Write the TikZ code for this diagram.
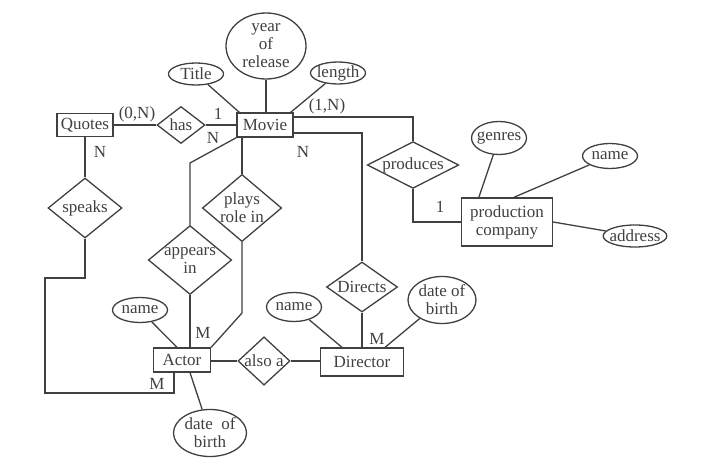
\documentclass[tikz,border=0pt]{standalone}
\usepackage{fontspec}
\setmainfont{Liberation Serif}
\usetikzlibrary{shapes.geometric}
\begin{document}
\begin{tikzpicture}[x=1pt,y=-1pt,line width=1.3pt,black!75,
    font=\fontsize{17}{18}\selectfont,
    entidad/.style={draw, rectangle, inner sep=0pt, align=center},
    relacion/.style={draw, diamond, inner sep=0pt, align=center},
    atributo/.style={draw, ellipse, inner sep=-3pt, align=center},
    card/.style={inner sep=1pt}]
    \useasboundingbox (0,0) rectangle (711,473);

    % Entidades
    \node[entidad, minimum width=56, minimum height=23] (quotes) at (85,125) {Quotes};
    \node[entidad, minimum width=56, minimum height=24] (movie) at (265,125) {Movie};
    \node[entidad, minimum width=91, minimum height=48] (company) at (507,222) {production\\company};
    \node[entidad, minimum width=57, minimum height=24] (actor) at (182,360) {Actor};
    \node[entidad, minimum width=83, minimum height=28] (director) at (362,362) {Director};

    % Relaciones
    \node[relacion, aspect=1.3, minimum width=48, minimum height=37] (has) at (181,125) {has};
    \node[relacion, aspect=1.96, minimum width=88, minimum height=45] (produces) at (413,165) {produces};
    \node[relacion, aspect=1.23, minimum width=74, minimum height=60] (speaks) at (85,208) {speaks};
    \node[relacion, aspect=1.21, minimum width=80, minimum height=66] (appears) at (190,260) {appears\\in};
    \node[relacion, aspect=1.18, minimum width=79, minimum height=67] (plays) at (242,208) {plays\\role in};
    \node[relacion, aspect=1.42, minimum width=71, minimum height=50] (directs) at (362,287) {Directs};
    \node[relacion, aspect=1.08, minimum width=51, minimum height=47] (alsoa) at (264,361) {also a};

    % Atributos
    \node[atributo, minimum width=55, minimum height=22] (title) at (196,74) {Title};
    \node[atributo, minimum width=80, minimum height=66] (year) at (266,46) {year\\of\\release};
    \node[atributo, minimum width=55, minimum height=22] (length) at (338,73) {length};
    \node[atributo, minimum width=55, minimum height=33] (genres) at (499,138) {genres};
    \node[atributo, minimum width=55, minimum height=25] (pcname) at (610,156) {name};
    \node[atributo, minimum width=63, minimum height=22] (address) at (635,236) {address};
    \node[atributo, minimum width=55, minimum height=25] (aname) at (140,310) {name};
    \node[atributo, minimum width=73, minimum height=47] (adob) at (210,433) {date~~of\\birth};
    \node[atributo, minimum width=55, minimum height=29] (dname) at (294,307) {name};
    \node[atributo, minimum width=68, minimum height=47] (ddob) at (442,300) {date of\\birth};

    % Puntos de quiebre
    \coordinate (bendA) at (45,278);
    \coordinate (bendB) at (45,393);
    \coordinate (bendC) at (190,163);
    \coordinate (bendD) at (242,313);

    % Conexiones
    \draw (quotes) -- (has);
    \draw (has) -- (movie);
    \draw ([yshift=8pt]movie.east) -| (produces.north);
    \draw (produces.south) |- (company.west);
    \draw ([yshift=-8pt]movie.east) -| (directs.north);
    \draw (directs.south) -- (director.north);
    \draw (quotes.south) -- (speaks.north);
    \draw (speaks.south) |- (bendA) -- (bendB) -| ([xshift=-8pt]actor.south);
    \draw (movie.south west) -- (bendC) -- (appears.north);
    \draw (appears.south) -- (appears.south |- actor.north);
    \draw (movie.south -| plays.north) -- (plays.north);
    \draw (plays.south) -- (bendD) -- (actor.north east);
    \draw (actor.east |- alsoa.west) -- (alsoa.west);
    \draw (alsoa.east) -- (alsoa.east -| director.west);

    % Lineas de atributos
    \draw (title) -- ([xshift=3pt]movie.north west);
    \draw (year) -- (year |- movie.north);
    \draw (length) -- ([xshift=-3pt]movie.north east);
    \draw (genres) -- ([xshift=18pt]company.north west);
    \draw (pcname) -- ([xshift=53pt]company.north west);
    \draw (company.east) -- (address);
    \draw (aname) -- ([xshift=-5pt]actor.north);
    \draw ([xshift=8pt]actor.south) -- (adob);
    \draw (dname) -- ([xshift=-20pt]director.north);
    \draw (ddob) -- ([xshift=23pt]director.north);

    % Cardinalidades
    \node[card] (c1) at (137,114) {(0,N)};
    \node[card] (c2) at (218,114) {1};
    \node[card] (c3) at (213,138) {N};
    \node[card] (c4) at (327,106) {(1,N)};
    \node[card] (c5) at (303,152) {N};
    \node[card] (c6) at (100,152) {N};
    \node[card] (c7) at (440,207) {1};
    \node[card] (c8) at (203,333) {M};
    \node[card] (c9) at (157,384) {M};
    \node[card] (c10) at (377,339) {M};
\end{tikzpicture}
\end{document}
